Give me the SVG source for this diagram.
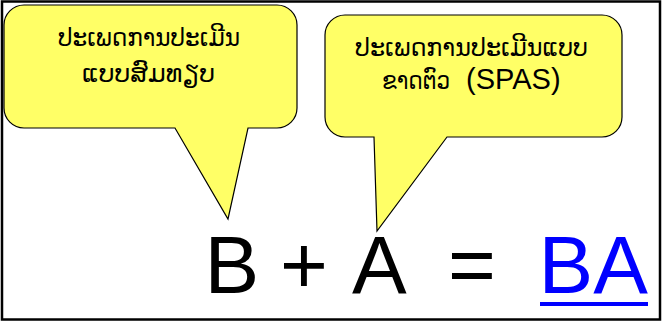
<svg xmlns="http://www.w3.org/2000/svg" width="662" height="322" viewBox="0 0 662 322">
<style>
.callout{fill:#FFFF66;stroke:#000;stroke-width:1.2}
.lao{font-family:"DejaVu Sans","Noto Sans",sans-serif;font-size:25px;fill:#000}
.lat{font-family:"Liberation Sans",Arial,sans-serif;font-size:29px;fill:#000}
.eq{font-family:"Liberation Sans",Arial,sans-serif;font-size:82px;fill:#000}
</style>
<rect x="2" y="1.5" width="658" height="318" fill="#fff" stroke="#000" stroke-width="2.5"/>
<g id="callout-left">
<path class="callout" d="M24,5 H277 A20,20 0 0 1 297,25 V108 A20,20 0 0 1 277,128 H248 L228,219 L175,128 H24 A20,20 0 0 1 4,108 V25 A20,20 0 0 1 24,5 Z"/>
<text class="lao" x="58" y="46" textLength="182" lengthAdjust="spacingAndGlyphs">ປະເພດການປະເມີນ</text>
<text class="lao" x="82" y="82" textLength="133" lengthAdjust="spacingAndGlyphs">ແບບສົມທຽບ</text>
</g>
<g id="callout-right">
<path class="callout" d="M345,15 H602 A20,20 0 0 1 622,35 V117 A20,20 0 0 1 602,137 H447 L377,231 L374,137 H345 A20,20 0 0 1 325,117 V35 A20,20 0 0 1 345,15 Z"/>
<text class="lao" x="355" y="56" textLength="233" lengthAdjust="spacingAndGlyphs">ປະເພດການປະເມີນແບບ</text>
<text x="382" y="89"><tspan class="lao" textLength="68" lengthAdjust="spacingAndGlyphs">ຂາດຕົວ</tspan><tspan class="lat" x="458"> (SPAS)</tspan></text>
</g>
<g id="equation">
<text class="eq" x="204.5" y="293">B</text>
<text class="eq" x="280" y="293">+</text>
<text class="eq" x="352" y="293">A</text>
<text class="eq" x="448" y="293">=</text>
<text class="eq" x="538.5" y="293" style="fill:#0000FF">BA</text>
<rect x="540" y="302" width="108" height="4" fill="#0000FF"/>
</g>
</svg>
